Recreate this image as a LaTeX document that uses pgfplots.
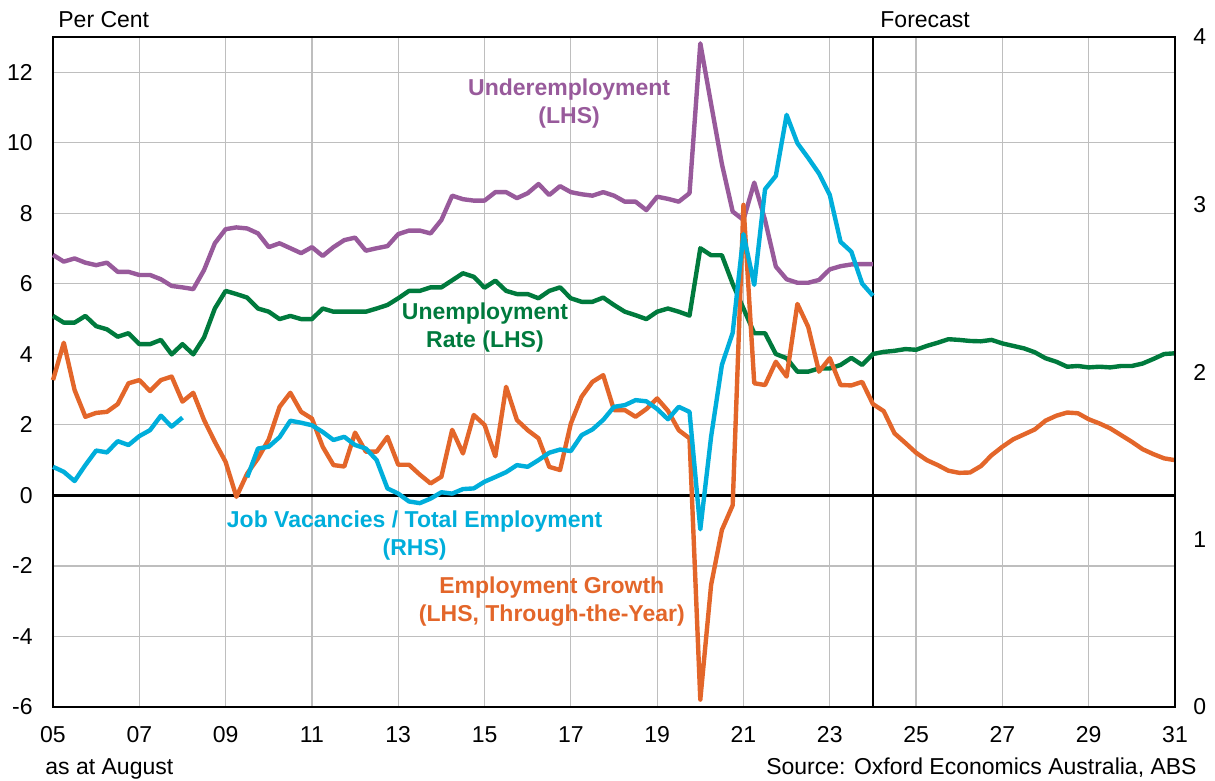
\documentclass[border=0pt]{standalone}
\usepackage{pgfplots}
\pgfplotsset{compat=1.18}
\usepackage{fontspec}
\setmainfont{Liberation Sans}
\definecolor{cpurple}{RGB}{152,90,155}
\definecolor{cgreen}{RGB}{0,122,61}
\definecolor{corange}{RGB}{227,102,42}
\definecolor{cblue}{RGB}{0,174,219}
\definecolor{cgrid}{RGB}{190,190,190}
\begin{document}
\begin{tikzpicture}[font=\fontsize{11.5}{14}\selectfont]
\begin{axis}[
  at={(0,0)}, anchor=south west, scale only axis,
  width=561pt, height=335pt,
  xmin=2005, xmax=2031, ymin=-6, ymax=13,
  xtick={2005,2007,...,2031},
  xticklabels={05,07,09,11,13,15,17,19,21,23,25,27,29,31},
  ytick={-6,-4,...,12},
  grid=major, major grid style={cgrid, line width=0.6pt},
  major tick length=0pt,
  axis line style={black, line width=0.7pt},
  /pgf/number format/assume math mode=true,
  ticklabel style={font=\fontsize{11.5}{14}\selectfont},
  yticklabel style={inner sep=0pt, anchor=east, xshift=-10pt},
  xticklabel style={inner sep=0pt, anchor=north, yshift=-9.5pt},
  clip=false,
  every axis plot/.append style={line width=2.2pt, line join=round},
]
\addplot[black, line width=1.1pt] coordinates {(2005,0) (2031,0)};
\addplot[black, line width=0.7pt] coordinates {(2024,-6) (2024,13)};
% Underemployment
\addplot[cpurple] coordinates {
(2005.0,6.82)(2005.25,6.63)(2005.5,6.72)(2005.75,6.60)(2006.0,6.53)(2006.25,6.60)(2006.5,6.34)(2006.75,6.34)
(2007.0,6.25)(2007.25,6.25)(2007.5,6.13)(2007.75,5.94)(2008.0,5.90)(2008.25,5.85)(2008.5,6.39)(2008.75,7.15)
(2009.0,7.55)(2009.25,7.60)(2009.5,7.57)(2009.75,7.43)(2010.0,7.04)(2010.25,7.15)(2010.5,7.01)(2010.75,6.87)
(2011.0,7.04)(2011.25,6.79)(2011.5,7.04)(2011.75,7.24)(2012.0,7.31)(2012.25,6.94)(2012.5,7.01)(2012.75,7.07)
(2013.0,7.41)(2013.25,7.51)(2013.5,7.51)(2013.75,7.43)(2014.0,7.81)(2014.25,8.50)(2014.5,8.40)(2014.75,8.36)
(2015.0,8.36)(2015.25,8.60)(2015.5,8.60)(2015.75,8.43)(2016.0,8.57)(2016.25,8.83)(2016.5,8.52)(2016.75,8.77)
(2017.0,8.60)(2017.25,8.54)(2017.5,8.50)(2017.75,8.60)(2018.0,8.50)(2018.25,8.33)(2018.5,8.33)(2018.75,8.09)
(2019.0,8.47)(2019.25,8.41)(2019.5,8.33)(2019.75,8.57)(2020.0,12.82)(2020.25,11.1)(2020.5,9.40)(2020.75,8.05)
(2021.0,7.81)(2021.25,8.87)(2021.5,7.81)(2021.75,6.49)(2022.0,6.13)(2022.25,6.03)(2022.5,6.03)(2022.75,6.11)
(2023.0,6.41)(2023.25,6.50)(2023.5,6.55)(2023.75,6.56)(2024.0,6.56)};
% Unemployment rate
\addplot[cgreen] coordinates {
(2005.0,5.09)(2005.25,4.90)(2005.5,4.90)(2005.75,5.09)(2006.0,4.80)(2006.25,4.71)(2006.5,4.50)(2006.75,4.60)
(2007.0,4.29)(2007.25,4.29)(2007.5,4.41)(2007.75,4.0)(2008.0,4.29)(2008.25,4.0)(2008.5,4.48)(2008.75,5.30)
(2009.0,5.80)(2009.25,5.71)(2009.5,5.61)(2009.75,5.30)(2010.0,5.21)(2010.25,5.0)(2010.5,5.09)(2010.75,5.0)
(2011.0,5.0)(2011.25,5.30)(2011.5,5.21)(2011.75,5.21)(2012.0,5.21)(2012.25,5.21)(2012.5,5.30)(2012.75,5.40)
(2013.0,5.59)(2013.25,5.80)(2013.5,5.80)(2013.75,5.90)(2014.0,5.90)(2014.25,6.10)(2014.5,6.30)(2014.75,6.20)
(2015.0,5.89)(2015.25,6.09)(2015.5,5.80)(2015.75,5.71)(2016.0,5.71)(2016.25,5.59)(2016.5,5.80)(2016.75,5.90)
(2017.0,5.59)(2017.25,5.49)(2017.5,5.49)(2017.75,5.61)(2018.0,5.40)(2018.25,5.21)(2018.5,5.11)(2018.75,5.0)
(2019.0,5.21)(2019.25,5.30)(2019.5,5.21)(2019.75,5.10)(2020.0,7.01)(2020.25,6.81)(2020.5,6.81)(2020.75,6.0)
(2021.0,5.3)(2021.25,4.60)(2021.5,4.60)(2021.75,4.01)(2022.0,3.89)(2022.25,3.51)(2022.5,3.51)(2022.75,3.60)
(2023.0,3.60)(2023.25,3.70)(2023.5,3.90)(2023.75,3.70)(2024.0,4.01)(2024.25,4.07)(2024.5,4.10)(2024.75,4.15)
(2025.0,4.13)(2025.25,4.24)(2025.5,4.33)(2025.75,4.43)(2026.0,4.41)(2026.25,4.38)(2026.5,4.37)(2026.75,4.41)
(2027.0,4.31)(2027.25,4.24)(2027.5,4.17)(2027.75,4.06)(2028.0,3.89)(2028.25,3.79)(2028.5,3.65)(2028.75,3.67)
(2029.0,3.63)(2029.25,3.65)(2029.5,3.63)(2029.75,3.67)(2030.0,3.67)(2030.25,3.74)(2030.5,3.87)(2030.75,4.01)
(2031.0,4.03)};
% Employment growth
\addplot[corange] coordinates {
(2005.0,3.27)(2005.25,4.33)(2005.5,2.99)(2005.75,2.23)(2006.0,2.34)(2006.25,2.37)(2006.5,2.59)(2006.75,3.18)
(2007.0,3.27)(2007.25,2.96)(2007.5,3.27)(2007.75,3.37)(2008.0,2.66)(2008.25,2.91)(2008.5,2.14)(2008.75,1.52)
(2009.0,0.95)(2009.25,-0.04)(2009.5,0.62)(2009.75,1.05)(2010.0,1.59)(2010.25,2.51)(2010.5,2.91)(2010.75,2.37)
(2011.0,2.18)(2011.25,1.38)(2011.5,0.86)(2011.75,0.82)(2012.0,1.78)(2012.25,1.24)(2012.5,1.24)(2012.75,1.66)
(2013.0,0.87)(2013.25,0.87)(2013.5,0.59)(2013.75,0.34)(2014.0,0.53)(2014.25,1.86)(2014.5,1.19)(2014.75,2.28)
(2015.0,2.0)(2015.25,1.11)(2015.5,3.08)(2015.75,2.14)(2016.0,1.85)(2016.25,1.62)(2016.5,0.81)(2016.75,0.72)
(2017.0,2.04)(2017.25,2.80)(2017.5,3.22)(2017.75,3.41)(2018.0,2.42)(2018.25,2.42)(2018.5,2.23)(2018.75,2.45)
(2019.0,2.75)(2019.25,2.40)(2019.5,1.85)(2019.75,1.62)(2020.0,-5.79)(2020.25,-2.54)(2020.5,-0.98)(2020.75,-0.28)
(2021.0,8.24)(2021.25,3.18)(2021.5,3.13)(2021.75,3.79)(2022.0,3.37)(2022.25,5.43)(2022.5,4.78)(2022.75,3.51)
(2023.0,3.89)(2023.25,3.13)(2023.5,3.12)(2023.75,3.22)(2024.0,2.59)(2024.25,2.39)(2024.5,1.76)(2024.75,1.49)
(2025.0,1.21)(2025.25,1.00)(2025.5,0.86)(2025.75,0.70)(2026.0,0.64)(2026.25,0.65)(2026.5,0.83)(2026.75,1.14)
(2027.0,1.38)(2027.25,1.59)(2027.5,1.73)(2027.75,1.87)(2028.0,2.12)(2028.25,2.26)(2028.5,2.35)(2028.75,2.33)
(2029.0,2.16)(2029.25,2.04)(2029.5,1.90)(2029.75,1.71)(2030.0,1.52)(2030.25,1.31)(2030.5,1.17)(2030.75,1.05)
(2031.0,1.00)};
\node[text=cpurple, align=center, font=\fontsize{11.5}{14}\bfseries\selectfont] at (axis cs:2016.96,11.1) {Underemployment\\(LHS)};
\node[text=cgreen, align=center, font=\fontsize{11.5}{14}\bfseries\selectfont] at (axis cs:2015.01,4.77) {Unemployment\\Rate (LHS)};
\node[text=cblue, align=center, font=\fontsize{11.5}{14}\bfseries\selectfont] at (axis cs:2013.38,-1.13) {Job Vacancies / Total Employment\\(RHS)};
\node[text=corange, align=center, font=\fontsize{11.5}{14}\bfseries\selectfont] at (axis cs:2016.56,-3.0) {Employment Growth\\(LHS, Through-the-Year)};
\end{axis}
\begin{axis}[
  at={(0,0)}, anchor=south west, scale only axis,
  width=561pt, height=335pt,
  xmin=2005, xmax=2031, ymin=0, ymax=4,
  axis x line=none, axis y line*=right,
  ytick={0,1,2,3,4},
  major tick length=0pt,
  axis line style={black, line width=0.7pt},
  /pgf/number format/assume math mode=true,
  ticklabel style={font=\fontsize{11.5}{14}\selectfont},
  yticklabel style={inner sep=0pt, anchor=west, xshift=9pt},
  clip=false,
]
% Job vacancies / total employment (RHS)
\addplot[cblue, line width=2.2pt, line join=round] coordinates {
(2005.0,1.434)(2005.25,1.404)(2005.5,1.349)(2005.75,1.444)(2006.0,1.531)(2006.25,1.520)(2006.5,1.587)(2006.75,1.564)
(2007.0,1.617)(2007.25,1.653)(2007.5,1.739)(2007.75,1.674)(2008.0,1.728)};
\addplot[cblue, line width=2.2pt, line join=round] coordinates {
(2009.5,1.371)(2009.75,1.543)(2010.0,1.554)(2010.25,1.611)(2010.5,1.709)(2010.75,1.697)
(2011.0,1.682)(2011.25,1.642)(2011.5,1.594)(2011.75,1.613)(2012.0,1.564)(2012.25,1.543)(2012.5,1.474)(2012.75,1.305)
(2013.0,1.274)(2013.25,1.227)(2013.5,1.217)(2013.75,1.244)(2014.0,1.282)(2014.25,1.274)(2014.5,1.301)(2014.75,1.305)
(2015.0,1.345)(2015.25,1.373)(2015.5,1.402)(2015.75,1.444)(2016.0,1.434)(2016.25,1.474)(2016.5,1.518)(2016.75,1.537)
(2017.0,1.528)(2017.25,1.623)(2017.5,1.657)(2017.75,1.714)(2018.0,1.792)(2018.25,1.802)(2018.5,1.832)(2018.75,1.825)
(2019.0,1.779)(2019.25,1.718)(2019.5,1.792)(2019.75,1.762)(2020.0,1.061)(2020.25,1.613)(2020.5,2.042)(2020.75,2.234)
(2021.0,2.823)(2021.25,2.520)(2021.5,3.091)(2021.75,3.171)(2022.0,3.535)(2022.25,3.366)(2022.5,3.278)(2022.75,3.185)
(2023.0,3.057)(2023.25,2.777)(2023.5,2.718)(2023.75,2.528)(2024.0,2.455)};
\end{axis}
\node[anchor=base west, inner sep=0pt] at (2.5pt,339.9pt) {Per Cent};
\node[anchor=base west, inner sep=0pt] at (413.5pt,339.9pt) {Forecast};
\node[anchor=base west, inner sep=0pt] at (-4pt,-33.8pt) {as at August};
\node[anchor=base east, inner sep=0pt] at (572pt,-33.8pt) {Source: Oxford Economics Australia, ABS};
\pgfresetboundingbox
\path[use as bounding box] (-26.5pt,-36.6pt) rectangle (581pt,353.5pt);
\end{tikzpicture}
\end{document}
